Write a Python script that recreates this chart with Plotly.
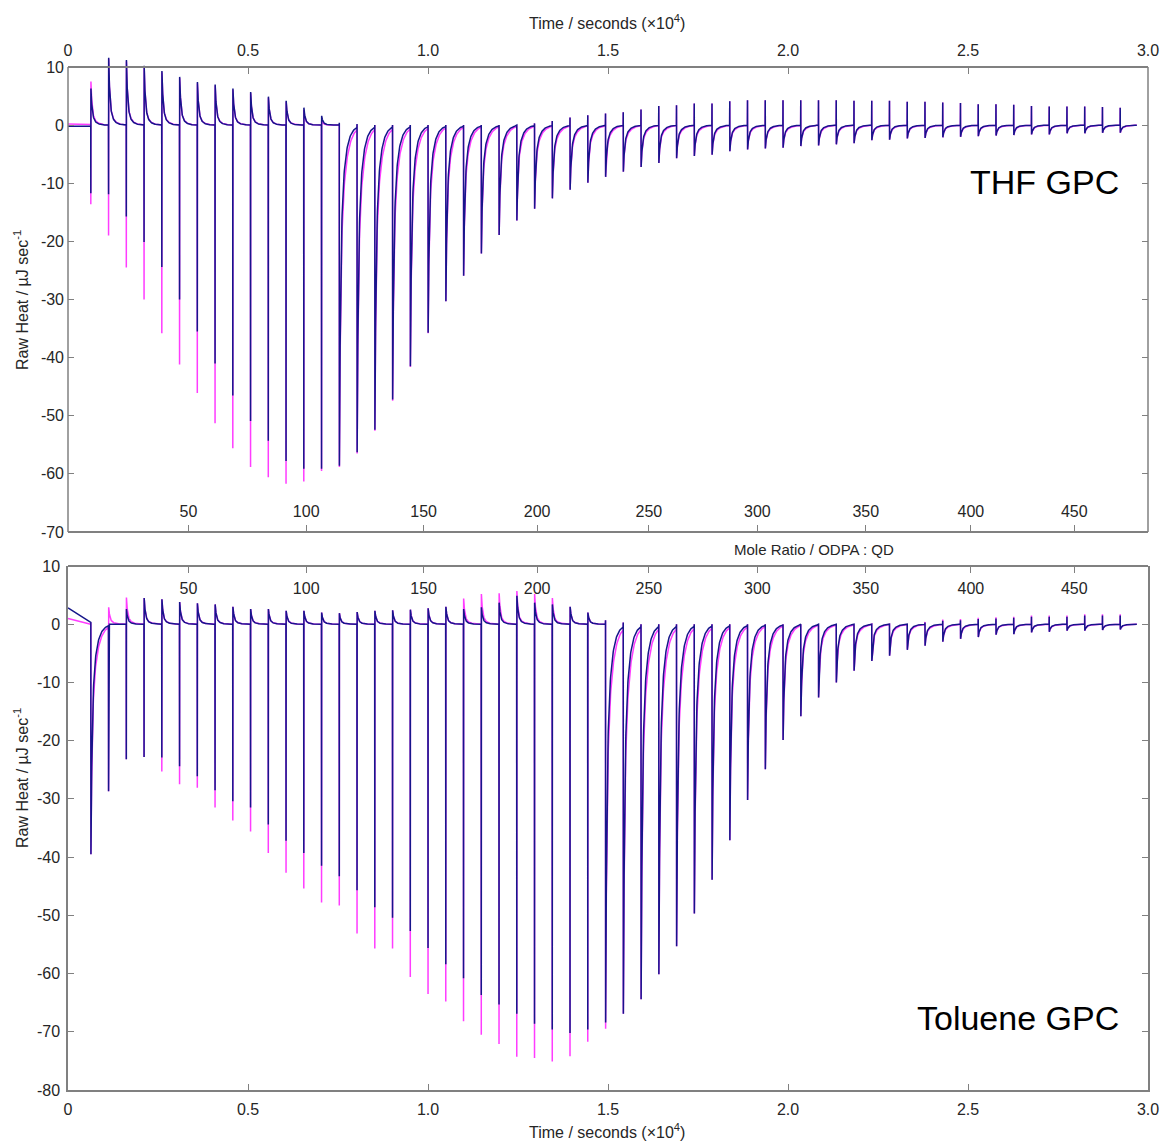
import numpy as np
import plotly.graph_objects as go

# ---------------- data ----------------
# injection schedule (time in units of 10^4 s)
FIRST_INJECTION = 0.0631
INJECTION_INTERVAL = 0.0493
RUN_END = 2.969

time_ticks = [0, 0.5, 1.0, 1.5, 2.0, 2.5, 3.0]
time_tick_labels = ["0", "0.5", "1.0", "1.5", "2.0", "2.5", "3.0"]
mole_ratio_labels = ["50", "100", "150", "200", "250", "300", "350", "400", "450"]
mole_ratio_tick_times = [0.3345, 0.6617, 0.9879, 1.3032, 1.6135, 1.9149, 2.2160, 2.5079, 2.7952]
thf_heat_ticks = [-70, -60, -50, -40, -30, -20, -10, 0, 10]
tol_heat_ticks = [-80, -70, -60, -50, -40, -30, -20, -10, 0, 10]
thf_frame = (-70, 10)
tol_frame = (-80, 10)

# THF GPC: positive and negative extremes of every injection (µJ/s)
thf_top_blue = [6.3, 11.6, 11.2, 10.2, 9.3, 8.3, 7.4, 7.0, 6.3, 5.7,
                4.9, 4.2, 3.0, 1.6, 0.4, 0.2, 0.0, 0.0, 0.0, 0.0,
                0.0, 0.0, 0.0, 0.0, 0.0, 0.3, 0.7, 1.3, 1.7, 2.0,
                2.2, 2.7, 3.3, 3.4, 3.7, 3.7, 4.1, 4.3, 4.3, 4.3,
                4.3, 4.3, 4.3, 4.2, 4.2, 4.2, 4.0, 4.0, 3.9, 3.8,
                3.6, 3.6, 3.5, 3.3, 3.2, 3.2, 3.2, 3.1, 3.0]
thf_top_magenta = [7.5, 11.4, 11.0, 10.0, 9.1, 8.1, 7.2, 6.8, 6.1, 5.5,
                   4.7, 4.0, 2.6, 0.8, 0.2, 0.1, 0.0, 0.0, 0.0, 0.0,
                   0.0, 0.0, 0.0, 0.0, 0.0, 0.3, 0.7, 1.3, 1.7, 2.0,
                   2.2, 2.7, 3.3, 3.4, 3.7, 3.7, 4.1, 4.3, 4.3, 4.3,
                   4.3, 4.3, 4.3, 4.2, 4.2, 4.2, 4.0, 4.0, 3.9, 3.8,
                   3.6, 3.6, 3.5, 3.3, 3.2, 3.2, 3.2, 3.1, 3.0]
thf_bottom_blue = [-11.7, -11.9, -15.7, -20.1, -24.4, -30.0, -35.5, -41.0, -46.5, -50.9,
                   -54.3, -57.8, -59.1, -59.1, -58.6, -56.3, -52.4, -47.2, -41.5, -35.7,
                   -30.3, -25.9, -22.1, -18.9, -16.4, -14.4, -12.6, -11.1, -9.9, -8.9,
                   -8.0, -7.2, -6.5, -5.7, -5.3, -5.1, -4.5, -4.2, -4.0, -3.9,
                   -3.6, -3.5, -3.3, -3.1, -2.6, -2.5, -2.3, -2.2, -2.1, -2.0,
                   -1.9, -1.8, -1.7, -1.6, -1.6, -1.4, -1.4, -1.3, -1.3]
thf_bottom_magenta = [-13.6, -19.0, -24.5, -30.0, -35.8, -41.2, -46.1, -51.3, -55.6, -58.8,
                      -60.6, -61.7, -61.3, -59.5, -58.8, -56.5, -52.6, -47.4, -41.6, -35.8,
                      -30.3, -25.9, -22.1, -18.9, -16.4, -14.4, -12.6, -11.1, -9.9, -8.9,
                      -8.0, -7.2, -6.5, -5.7, -5.3, -5.1, -4.5, -4.2, -4.0, -3.9,
                      -3.6, -3.5, -3.3, -3.1, -2.6, -2.5, -2.3, -2.2, -2.1, -2.0,
                      -1.9, -1.8, -1.7, -1.6, -1.6, -1.4, -1.4, -1.3, -1.3]
thf_exo_first = (0, 13)          # injections whose heat tail is positive
thf_start_blue = (-0.2, -0.2)    # baseline before first injection
thf_start_magenta = (0.2, 0.1)

# Toluene GPC
tol_top_blue = [0.3, 0.0, 2.6, 4.5, 4.3, 3.8, 3.6, 3.4, 3.0, 2.6,
                2.6, 2.3, 2.3, 2.0, 1.9, 2.1, 2.3, 2.4, 2.5, 2.75,
                3.0, 2.6, 2.9, 3.7, 4.9, 3.7, 3.4, 3.0, 2.0, 0.7,
                0.3, 0.0, 0.0, 0.0, 0.0, 0.0, 0.0, 0.0, 0.0, 0.0,
                0.0, 0.0, 0.0, 0.0, 0.0, 0.0, 0.0, 0.3, 0.6, 0.7,
                0.9, 1.0, 1.1, 1.3, 1.3, 1.3, 1.5, 1.5, 1.5]
tol_top_magenta = [0.3, 2.9, 4.6, 4.5, 4.3, 3.8, 3.6, 3.4, 3.0, 2.6,
                   2.6, 2.3, 2.3, 2.0, 1.9, 2.1, 2.3, 2.4, 2.5, 2.75,
                   3.0, 4.4, 5.2, 5.3, 5.7, 5.2, 4.5, 3.0, 2.0, 0.7,
                   0.3, 0.0, 0.0, 0.0, 0.0, 0.0, 0.0, 0.0, 0.0, 0.0,
                   0.0, 0.0, 0.0, 0.0, 0.0, 0.0, 0.0, 0.4, 0.8, 0.9,
                   1.1, 1.2, 1.3, 1.5, 1.5, 1.5, 1.7, 1.7, 1.7]
tol_bottom_blue = [-39.5, -28.7, -23.2, -22.8, -22.9, -24.4, -26.1, -28.5, -30.4, -31.5,
                   -34.4, -37.2, -39.3, -41.5, -43.3, -45.7, -48.6, -50.4, -52.7, -55.6,
                   -58.4, -60.8, -63.7, -65.3, -66.9, -68.6, -69.6, -70.2, -69.6, -68.4,
                   -66.9, -64.4, -60.1, -55.3, -49.7, -43.9, -37.1, -30.2, -24.9, -19.9,
                   -15.8, -12.6, -10.0, -8.0, -6.3, -5.4, -4.4, -3.7, -3.0, -2.5,
                   -2.2, -1.8, -1.7, -1.4, -1.3, -1.1, -1.1, -1.0, -0.9]
tol_bottom_magenta = [-39.5, -28.7, -23.2, -22.8, -25.3, -27.5, -28.1, -31.5, -33.7, -35.6,
                      -39.3, -42.7, -45.4, -47.8, -48.3, -53.1, -55.7, -55.7, -60.6, -63.5,
                      -64.8, -68.2, -70.5, -72.1, -74.3, -74.5, -75.1, -74.2, -71.7, -69.5,
                      -66.9, -64.4, -60.1, -55.3, -49.7, -43.9, -37.1, -30.2, -24.9, -19.9,
                      -15.8, -12.6, -10.0, -8.0, -6.3, -5.4, -4.4, -3.7, -3.0, -2.5,
                      -2.2, -1.8, -1.7, -1.4, -1.3, -1.1, -1.1, -1.0, -0.9]
tol_exo_first = (1, 28)
tol_start_blue = (2.8, 0.3)
tol_start_magenta = (1.0, 0.0)

# ---------------- styling ----------------
BLUE = "#16168a"
MAGENTA = "#ff3cff"
AXIS_GRAY = "#808080"
TEXT = "#262626"
FONT = "Liberation Sans, Arial, sans-serif"

# relaxation (weight of fast part, fast tau, slow tau) in 10^4 s
RELAX_BLUE = {"pos": (0.7, 0.003, 0.010), "neg": (0.6, 0.003, 0.012)}
RELAX_MAGENTA = {"pos": (0.7, 0.003, 0.011), "neg": (0.55, 0.003, 0.014)}


def build_trace(tops, bottoms, exo_first, start, relax):
    n = len(tops)
    t_inj = FIRST_INJECTION + INJECTION_INTERVAL * np.arange(n)
    xs = [0.0, float(t_inj[0])]
    ys = [start[0], start[1]]
    eps = 0.0003
    shape = np.linspace(0.0, 1.0, 80) ** 2
    for i in range(n):
        t = t_inj[i]
        t_next = t_inj[i + 1] if i + 1 < n else RUN_END
        if exo_first[0] <= i <= exo_first[1]:
            spike, tail = bottoms[i], tops[i]
        else:
            spike, tail = tops[i], bottoms[i]
        w, tf, ts = relax["pos"] if tail > 0 else relax["neg"]
        t0 = t + 2 * eps
        dt = (t_next - t0 - 1e-5) * shape
        xs.append(float(t + eps))
        ys.append(spike)
        xs.extend((t0 + dt).tolist())
        ys.extend((tail * (w * np.exp(-dt / tf) + (1 - w) * np.exp(-dt / ts))).tolist())
    return xs, ys


fig = go.Figure()

panels = [
    ("x", "y", thf_top_magenta, thf_bottom_magenta, thf_top_blue, thf_bottom_blue,
     thf_exo_first, thf_start_magenta, thf_start_blue),
    ("x3", "y2", tol_top_magenta, tol_bottom_magenta, tol_top_blue, tol_bottom_blue,
     tol_exo_first, tol_start_magenta, tol_start_blue),
]
for xa, ya, tm, bm, tb, bb, exo, sm, sb in panels:
    x, y = build_trace(tm, bm, exo, sm, RELAX_MAGENTA)
    fig.add_trace(go.Scatter(x=x, y=y, mode="lines", xaxis=xa, yaxis=ya,
                             line=dict(color=MAGENTA, width=1.5), showlegend=False,
                             hoverinfo="skip"))
    x, y = build_trace(tb, bb, exo, sb, RELAX_BLUE)
    fig.add_trace(go.Scatter(x=x, y=y, mode="lines", xaxis=xa, yaxis=ya,
                             line=dict(color=BLUE, width=1.5), showlegend=False,
                             hoverinfo="skip"))

# invisible traces so that the mole-ratio axes are drawn
for xa, ya in [("x2", "y"), ("x4", "y2")]:
    fig.add_trace(go.Scatter(x=[None], y=[None], xaxis=xa, yaxis=ya, showlegend=False,
                             hoverinfo="skip"))

W, H = 1166, 1143
X_LEFT, X_RIGHT = 68, 1148
TOP_FRAME = (67, 532)      # pixel rows of the THF frame (10 and -70)
BOT_FRAME = (566, 1090)    # pixel rows of the toluene frame (10 and -80)
THF_HEADROOM = 12          # the THF data range extends above the frame (spikes poke out)

xdom = [X_LEFT / W, X_RIGHT / W]
thf_ppu = (TOP_FRAME[1] - TOP_FRAME[0]) / (thf_frame[1] - thf_frame[0])
top_dom = [1 - TOP_FRAME[1] / H,
           1 - (TOP_FRAME[0] - (THF_HEADROOM - thf_frame[1]) * thf_ppu) / H]
bot_dom = [1 - BOT_FRAME[1] / H, 1 - BOT_FRAME[0] / H]

common_axis = dict(linecolor=AXIS_GRAY, linewidth=1.5,
                   ticklen=6, tickwidth=1.2, tickcolor=AXIS_GRAY, showgrid=False,
                   zeroline=False, tickfont=dict(family=FONT, size=16, color=TEXT),
                   automargin=False, fixedrange=True)

time_axis = dict(common_axis, showline=True, range=[0, 3.0], tickmode="array",
                 tickvals=time_ticks, ticktext=time_tick_labels, domain=xdom,
                 ticks="inside")
mole_axis = dict(common_axis, showline=True, range=[0, 3.0], tickmode="array",
                 tickvals=mole_ratio_tick_times, ticktext=mole_ratio_labels,
                 ticks="outside", anchor="free")

fig.update_layout(
    width=W, height=H,
    margin=dict(l=0, r=0, t=0, b=0),
    paper_bgcolor="white", plot_bgcolor="white",
    template="none",
    showlegend=False,
    xaxis=dict(time_axis, anchor="free", position=1 - TOP_FRAME[0] / H, side="top",
               ticklabelstandoff=4),
    xaxis2=dict(mole_axis, overlaying="x", side="top", position=top_dom[0],
                ticklabelstandoff=2),
    xaxis3=dict(time_axis, anchor="y2", side="bottom", ticklabelstandoff=4),
    xaxis4=dict(mole_axis, overlaying="x3", side="bottom", position=bot_dom[1],
                ticklabelstandoff=2),
    yaxis=dict(common_axis, showline=False, domain=top_dom, anchor="x",
               range=[thf_frame[0], THF_HEADROOM], ticks="inside",
               tickmode="array", tickvals=thf_heat_ticks,
               ticktext=[str(v) for v in thf_heat_ticks], mirror="ticks",
               ticklabelstandoff=3),
    yaxis2=dict(common_axis, showline=True, domain=bot_dom, anchor="x3",
                range=list(tol_frame), ticks="inside",
                tickmode="array", tickvals=tol_heat_ticks,
                ticktext=[str(v) for v in tol_heat_ticks], mirror="ticks",
                ticklabelstandoff=3),
)

# left and right frame lines of the THF panel (only between -70 and 10)
for xp in xdom:
    fig.add_shape(type="line", xref="paper", yref="y", x0=xp, x1=xp,
                  y0=thf_frame[0], y1=thf_frame[1],
                  line=dict(color=AXIS_GRAY, width=1.5), layer="above")

ann = []


def add_text(text, px, py, size=16, rot=0, xanchor="center", color=TEXT):
    ann.append(dict(text=text, x=px / W, y=1 - py / H, xref="paper", yref="paper",
                    showarrow=False, textangle=rot, xanchor=xanchor, yanchor="middle",
                    font=dict(family=FONT, size=size, color=color)))


add_text("Time / seconds (×10<sup>4</sup>)", 607, 22)
add_text("Time / seconds (×10<sup>4</sup>)", 607, 1131)
add_text("Mole Ratio / ODPA : QD", 814, 549, size=15)
add_text("Raw Heat / µJ sec<sup>-1</sup>", 21, 300, rot=-90)
add_text("Raw Heat / µJ sec<sup>-1</sup>", 21, 778, rot=-90)
add_text("THF GPC", 1121, 182, size=34, xanchor="right", color="black")
add_text("Toluene GPC", 1121, 1018, size=34, xanchor="right", color="black")
fig.update_layout(annotations=ann)

fig.write_html("out.html", config={"displayModeBar": False},
               post_script="document.body.style.margin='0px';")
